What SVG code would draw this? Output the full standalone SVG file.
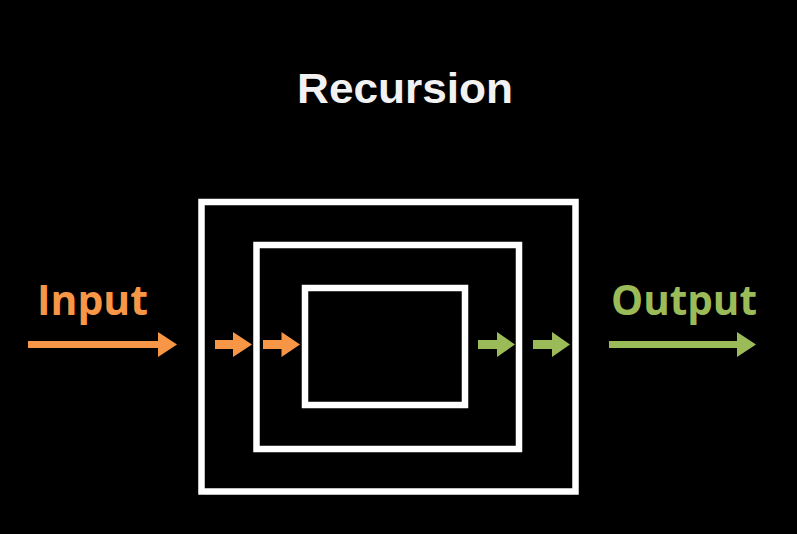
<svg xmlns="http://www.w3.org/2000/svg" width="797" height="534" viewBox="0 0 797 534">
<style>
.box{fill:none;stroke:#fff;stroke-width:6.5}
.in{fill:#F79646}
.out{fill:#9BBB59}
.lbl{font-family:"Open Sans","Liberation Sans",sans-serif;font-weight:bold;font-size:42px}
</style>
<rect width="797" height="534" fill="#000"/>
<text x="405" y="103" text-anchor="middle" font-family="'Liberation Sans',Arial,sans-serif" font-weight="bold" font-size="43" fill="#F2F2F2" textLength="216" lengthAdjust="spacingAndGlyphs">Recursion</text>
<g id="outer"><rect class="box" x="201.5" y="202" width="374" height="289.5"/></g>
<g id="middle"><rect class="box" x="256.5" y="245" width="262.5" height="204"/></g>
<g id="inner"><rect class="box" x="305" y="288" width="160" height="117"/></g>
<g id="input-label"><text class="lbl" x="37" y="315" fill="#F79646" textLength="111" lengthAdjust="spacingAndGlyphs">Input</text></g>
<g id="output-label"><text class="lbl" x="611" y="315" fill="#9BBB59" textLength="146" lengthAdjust="spacingAndGlyphs">Output</text></g>
<g id="connectors">
<polygon class="in" points="28,341 158,341 158,332 177,344.5 158,357 158,348 28,348"/>
<polygon class="in" points="215,340 233,340 233,332 252,344.5 233,357 233,349 215,349"/>
<polygon class="in" points="263,340 281.5,340 281.5,332 300,344.5 281.5,357 281.5,349 263,349"/>
<polygon class="out" points="478,340 497,340 497,332 515,344.5 497,357 497,349 478,349"/>
<polygon class="out" points="533,340 552,340 552,332 570,344.5 552,357 552,349 533,349"/>
<polygon class="out" points="609,341 737,341 737,332 756,344.5 737,357 737,348 609,348"/>
</g>
</svg>
